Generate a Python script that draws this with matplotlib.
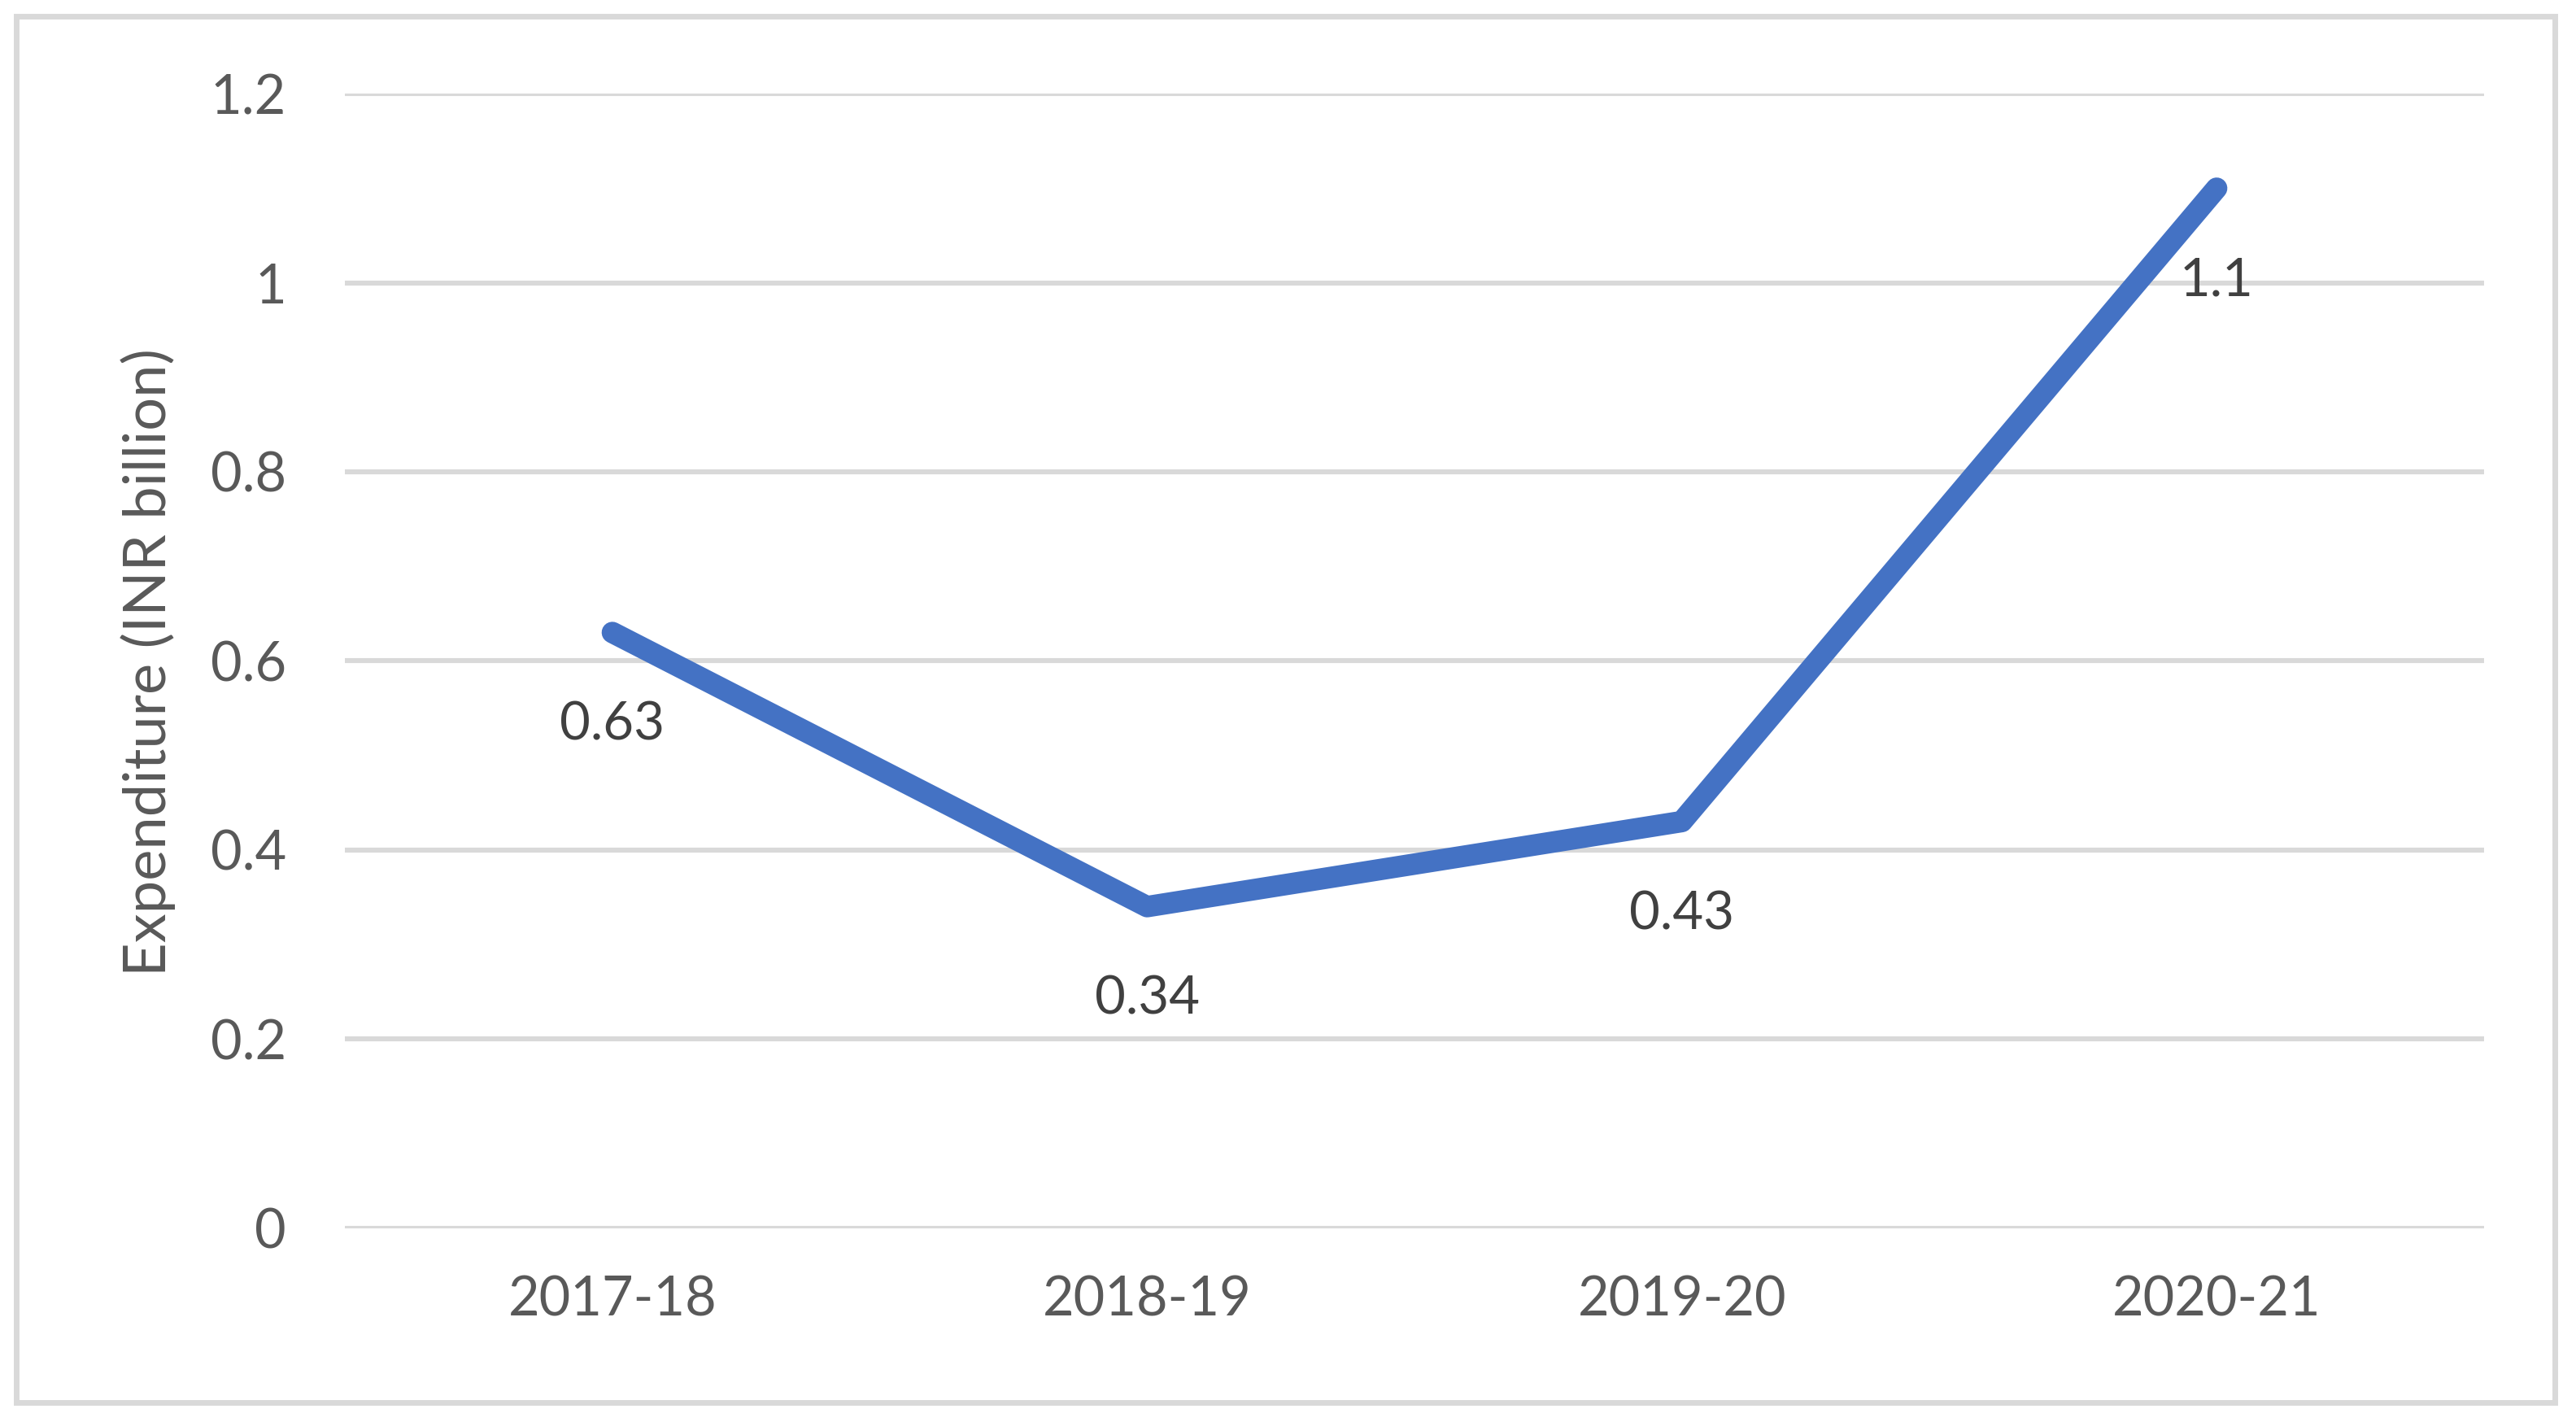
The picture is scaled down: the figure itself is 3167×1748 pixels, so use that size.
import matplotlib.pyplot as plt
from matplotlib.patches import Rectangle

# Дані
years = ['2017-18', '2018-19', '2019-20', '2020-21']
expenditure = [0.63, 0.34, 0.43, 1.1]
y_ticks = [0, 0.2, 0.4, 0.6, 0.8, 1.0, 1.2]
y_tick_labels = ['0', '0.2', '0.4', '0.6', '0.8', '1', '1.2']

plt.rcParams['font.family'] = ['Lato', 'DejaVu Sans']

W, H = 1568, 865  # розмір зменшеного зображення для зручних координат
fig = plt.figure(figsize=(15.835, 8.74), dpi=200)

ax = fig.add_axes([210 / W, 1 - 747 / H, (1512 - 210) / W, (747 - 57) / H])
x = list(range(len(years)))
ax.plot(x, expenditure, color='#4472C4', linewidth=9.5,
        solid_capstyle='round', solid_joinstyle='round', clip_on=False, zorder=3)

for xi, v in zip(x, expenditure):
    ax.annotate(f'{v:g}', (xi, v), xytext=(0, -41), textcoords='offset points',
                ha='center', va='center', fontsize=23.5, color='#404040')

ax.set_xlim(-0.5, 3.5)
ax.set_ylim(0, 1.2)
ax.set_xticks(x)
ax.set_xticklabels(years)
ax.set_yticks(y_ticks)
ax.set_yticklabels(y_tick_labels)
ax.tick_params(axis='both', length=0, labelsize=24, colors='#595959')
ax.tick_params(axis='y', pad=26)
ax.tick_params(axis='x', pad=21)
ax.grid(axis='y', color='#d9d9d9', linewidth=2.2)
ax.set_axisbelow(True)
for s in ax.spines.values():
    s.set_visible(False)

fig.text(90 / W, 1 - 403 / H, 'Expenditure (INR billion)', rotation=90,
         ha='center', va='center', fontsize=26, color='#595959')

# Рамка навколо діаграми
fig.patches.append(Rectangle((10 / W, 1 - 853 / H), (1555 - 10) / W, (853 - 10) / H,
                             transform=fig.transFigure, fill=False,
                             edgecolor='#d9d9d9', linewidth=2.5))

fig.savefig('out.png', dpi=200, facecolor='white')
